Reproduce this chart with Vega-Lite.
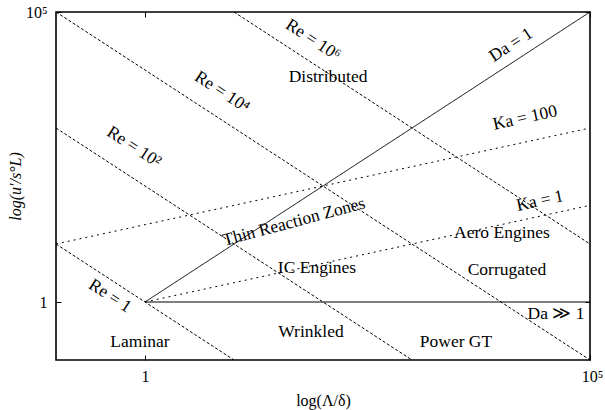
{
  "$schema": "https://vega.github.io/schema/vega-lite/v6.json",
  "width": 534,
  "height": 348,
  "autosize": {"type": "none"},
  "padding": {"left": 56, "top": 12, "right": 15, "bottom": 50},
  "background": "white",
  "config": {
    "view": {"stroke": "#000", "strokeWidth": 1.6},
    "font": "Liberation Serif",
    "axis": {
      "grid": false,
      "domain": false,
      "tickColor": "#000",
      "tickSize": -5,
      "tickWidth": 1,
      "labelFont": "Liberation Serif",
      "labelFontSize": 16,
      "labelColor": "#000",
      "titleFont": "Liberation Serif",
      "titleFontSize": 16,
      "titleFontWeight": "normal",
      "titleColor": "#000"
    }
  },
  "datasets": {
    "lines": [
      {"id": "Da1", "kind": "solid", "x": 1, "y": 1},
      {"id": "Da1", "kind": "solid", "x": 100000, "y": 100000},
      {"id": "Dagg1", "kind": "solid", "x": 1, "y": 1},
      {"id": "Dagg1", "kind": "solid", "x": 100000, "y": 1},
      {"id": "Ka1", "kind": "ka", "x": 1, "y": 1},
      {"id": "Ka1", "kind": "ka", "x": 100000, "y": 46.4},
      {"id": "Ka100", "kind": "ka", "x": 0.1, "y": 10},
      {"id": "Ka100", "kind": "ka", "x": 100000, "y": 1000},
      {"id": "Re1", "kind": "re", "x": 0.1, "y": 10},
      {"id": "Re1", "kind": "re", "x": 10, "y": 0.1},
      {"id": "Re2", "kind": "re", "x": 0.1, "y": 1000},
      {"id": "Re2", "kind": "re", "x": 1000, "y": 0.1},
      {"id": "Re4", "kind": "re", "x": 0.1, "y": 100000},
      {"id": "Re4", "kind": "re", "x": 100000, "y": 0.1},
      {"id": "Re6", "kind": "re", "x": 10, "y": 100000},
      {"id": "Re6", "kind": "re", "x": 100000, "y": 10}
    ],
    "labels": [
      {"group": "region", "label": "Distributed", "x": 114, "y": 7570},
      {"group": "region", "label": "Aero Engines", "x": 10260, "y": 15.5},
      {"group": "region", "label": "Corrugated", "x": 11680, "y": 3.56},
      {"group": "region", "label": "IC Engines", "x": 85.6, "y": 3.86},
      {"group": "region", "label": "Wrinkled", "x": 73.3, "y": 0.304},
      {"group": "region", "label": "Laminar", "x": 0.879, "y": 0.204},
      {"group": "region", "label": "Power GT", "x": 3120, "y": 0.204},
      {"group": "region", "label": "Da ≫ 1", "x": 41500, "y": 0.621},
      {"group": "trz", "label": "Thin Reaction Zones", "x": 47.2, "y": 23.9},
      {"group": "da", "label": "Da = 1", "x": 12950, "y": 27000},
      {"group": "ka", "label": "Ka = 100", "x": 18600, "y": 1487},
      {"group": "ka", "label": "Ka = 1", "x": 27400, "y": 55.1},
      {"group": "re", "label": "Re = 10⁶", "x": 77.2, "y": 32900},
      {"group": "re", "label": "Re = 10⁴", "x": 7.33, "y": 4178},
      {"group": "re", "label": "Re = 10²", "x": 0.752, "y": 470},
      {"group": "re", "label": "Re = 1", "x": 0.404, "y": 1.27}
    ]
  },
  "layer": [
    {
      "data": {"name": "lines"},
      "mark": {"type": "line", "color": "#000", "strokeWidth": 1},
      "encoding": {
        "x": {
          "field": "x", "type": "quantitative",
          "scale": {"type": "log", "domain": [0.1, 100000], "nice": false},
          "axis": {
            "orient": "bottom",
            "values": [1, 100000],
            "labelExpr": "datum.value < 10 ? '1' : '10⁵'",
            "labelFlush": false,
            "labelPadding": 13,
            "labelOffset": {"condition": {"test": "datum.value > 10", "value": 2}, "value": 0},
            "title": "log(Λ/δ)",
            "titlePadding": 8
          }
        },
        "y": {
          "field": "y", "type": "quantitative",
          "scale": {"type": "log", "domain": [0.1, 100000], "nice": false},
          "axis": {
            "orient": "left",
            "values": [1, 100000],
            "labelExpr": "datum.value < 10 ? '1' : '10⁵'",
            "labelPadding": 14,
            "title": "log(u′/s°L)",
            "titleFontStyle": "italic",
            "titlePadding": 2
          }
        },
        "detail": {"field": "id"},
        "strokeDash": {
          "field": "kind", "type": "nominal",
          "scale": {"domain": ["solid", "re", "ka"], "range": [[1, 0], [3, 2], [2, 4]]},
          "legend": null
        }
      }
    },
    {
      "data": {"name": "labels"},
      "transform": [{"filter": "datum.group == 'region'"}],
      "mark": {"type": "text", "fontSize": 17.5, "baseline": "middle", "color": "#000", "font": "Liberation Serif"},
      "encoding": {
        "x": {"field": "x", "type": "quantitative", "axis": {"orient": "top", "values": [1, 100000], "labels": false, "title": null}},
        "y": {"field": "y", "type": "quantitative", "axis": {"orient": "right", "values": [1, 100000], "labels": false, "title": null}},
        "text": {"field": "label"}
      }
    },
    {
      "data": {"name": "labels"},
      "transform": [{"filter": "datum.group == 'trz'"}],
      "mark": {"type": "text", "fontSize": 17.5, "baseline": "middle", "color": "#000", "angle": -15, "font": "Liberation Serif"},
      "encoding": {
        "x": {"field": "x", "type": "quantitative", "axis": null},
        "y": {"field": "y", "type": "quantitative", "axis": null},
        "text": {"field": "label"}
      }
    },
    {
      "data": {"name": "labels"},
      "transform": [{"filter": "datum.group == 'da'"}],
      "mark": {"type": "text", "fontSize": 17.5, "baseline": "middle", "color": "#000", "angle": -33, "font": "Liberation Serif"},
      "encoding": {
        "x": {"field": "x", "type": "quantitative", "axis": null},
        "y": {"field": "y", "type": "quantitative", "axis": null},
        "text": {"field": "label"}
      }
    },
    {
      "data": {"name": "labels"},
      "transform": [{"filter": "datum.group == 'ka'"}],
      "mark": {"type": "text", "fontSize": 17.5, "baseline": "middle", "color": "#000", "angle": -12.3, "font": "Liberation Serif"},
      "encoding": {
        "x": {"field": "x", "type": "quantitative", "axis": null},
        "y": {"field": "y", "type": "quantitative", "axis": null},
        "text": {"field": "label"}
      }
    },
    {
      "data": {"name": "labels"},
      "transform": [{"filter": "datum.group == 're'"}],
      "mark": {"type": "text", "fontSize": 17.5, "baseline": "middle", "color": "#000", "angle": 33, "font": "Liberation Serif"},
      "encoding": {
        "x": {"field": "x", "type": "quantitative", "axis": null},
        "y": {"field": "y", "type": "quantitative", "axis": null},
        "text": {"field": "label"}
      }
    }
  ],
  "resolve": {"axis": {"x": "independent", "y": "independent"}}
}
